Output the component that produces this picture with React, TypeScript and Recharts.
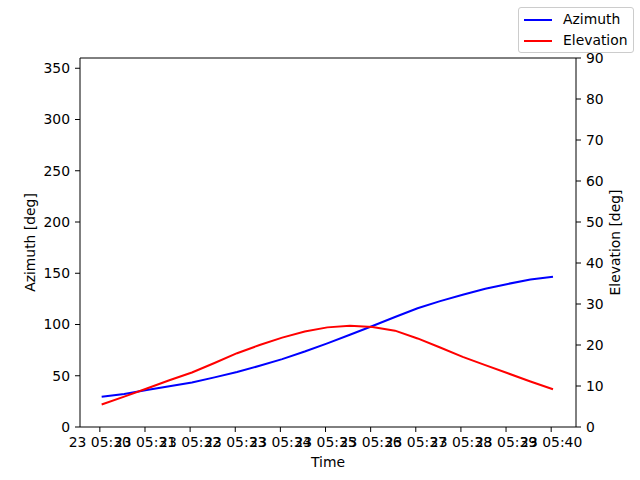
import { LineChart, Line, XAxis, YAxis, Legend, ReferenceLine } from 'recharts';

// minutes after 05:30 on the 23rd (samples start a couple of seconds past the minute)
const minutes = [0.04, 0.54, 1.04, 1.54, 2.04, 2.54, 3.04, 3.54, 4.04, 4.54, 5.04, 5.54, 6.04, 6.54, 7.04, 7.54, 8.04, 8.54, 9.04, 9.54, 10.04];
const azimuth = [29.5, 32.3, 36.2, 39.8, 43.5, 48.4, 53.6, 59.7, 66.2, 73.6, 81.6, 90.0, 98.5, 107.3, 115.9, 122.8, 129.0, 134.8, 139.6, 143.8, 146.6];
const elevation = [5.5, 7.4, 9.4, 11.4, 13.3, 15.6, 18.0, 20.0, 21.8, 23.3, 24.3, 24.7, 24.4, 23.5, 21.6, 19.4, 17.1, 15.1, 13.1, 11.1, 9.2];

const timeTicks = [0, 1, 2, 3, 4, 5, 6, 7, 8, 9, 10];
const azTicks = [0, 50, 100, 150, 200, 250, 300, 350];
const elTicks = [0, 10, 20, 30, 40, 50, 60, 70, 80, 90];

const data = minutes.map((t, i) => ({ t, azimuth: azimuth[i], elevation: elevation[i] }));

const FONT = 'DejaVu Sans, sans-serif';
const tickStyle = { fill: '#000', fontSize: 13.9, fontFamily: FONT };

function LegendBox({ payload }: any) {
  return (
    <div
      style={{
        border: '1px solid #cccccc',
        borderRadius: 3,
        background: '#fff',
        width: 114,
        height: 44,
        fontFamily: FONT,
        fontSize: 13.9,
        color: '#000',
        boxSizing: 'content-box',
        textAlign: 'left',
      }}
    >
      {(payload || []).map((p: any, i: number) => (
        <div key={i} style={{ position: 'relative', height: 21, top: 1 }}>
          <div style={{ position: 'absolute', left: 5, top: 10, width: 28, height: 2, background: p.color }} />
          <span style={{ position: 'absolute', left: 44, top: 1, lineHeight: '18px' }}>{p.value}</span>
        </div>
      ))}
    </div>
  );
}

export default function App() {
  return (
    <div style={{ position: 'fixed', left: 0, top: 0, width: 640, height: 480, background: '#fff' }}>
      <LineChart width={640} height={480} data={data} margin={{ top: 58, right: 0, bottom: 0, left: 0 }}>
        <XAxis
          dataKey='t'
          type='number'
          domain={[-0.44, 10.55]}
          ticks={timeTicks}
          interval={0}
          tickFormatter={(v: number) => `23 05:${30 + v}`}
          height={53}
          tick={tickStyle}
          tickSize={5}
          tickMargin={5}
          stroke='#000'
          allowDataOverflow
          label={{ value: 'Time', position: 'insideBottom', offset: 13, fill: '#000', fontSize: 13.9, fontFamily: FONT }}
        />
        <YAxis
          yAxisId='left'
          domain={[0, 360]}
          ticks={azTicks}
          interval={0}
          width={80}
          tick={tickStyle}
          tickSize={5}
          tickMargin={5}
          stroke='#000'
          allowDataOverflow
          label={{ value: 'Azimuth [deg]', angle: -90, position: 'center', dx: -9.5, fill: '#000', fontSize: 13.9, fontFamily: FONT }}
        />
        <YAxis
          yAxisId='right'
          orientation='right'
          domain={[0, 90]}
          ticks={elTicks}
          interval={0}
          width={64}
          tick={tickStyle}
          tickSize={5}
          tickMargin={5}
          stroke='#000'
          allowDataOverflow
          label={{ value: 'Elevation [deg]', angle: -90, position: 'center', dx: 7, fill: '#000', fontSize: 13.9, fontFamily: FONT }}
        />
        <ReferenceLine yAxisId='left' y={360} stroke='#000' />
        <Legend
          content={<LegendBox />}
          layout='horizontal'
          verticalAlign='middle'
          align='center'
          wrapperStyle={{ position: 'absolute', top: 7, left: 518, width: 116 }}
        />
        <Line
          yAxisId='left'
          dataKey='azimuth'
          name='Azimuth'
          type='linear'
          stroke='#0000ff'
          strokeWidth={2}
          dot={false}
          isAnimationActive={false}
        />
        <Line
          yAxisId='right'
          dataKey='elevation'
          name='Elevation'
          type='linear'
          stroke='#ff0000'
          strokeWidth={2}
          dot={false}
          isAnimationActive={false}
        />
      </LineChart>
    </div>
  );
}
